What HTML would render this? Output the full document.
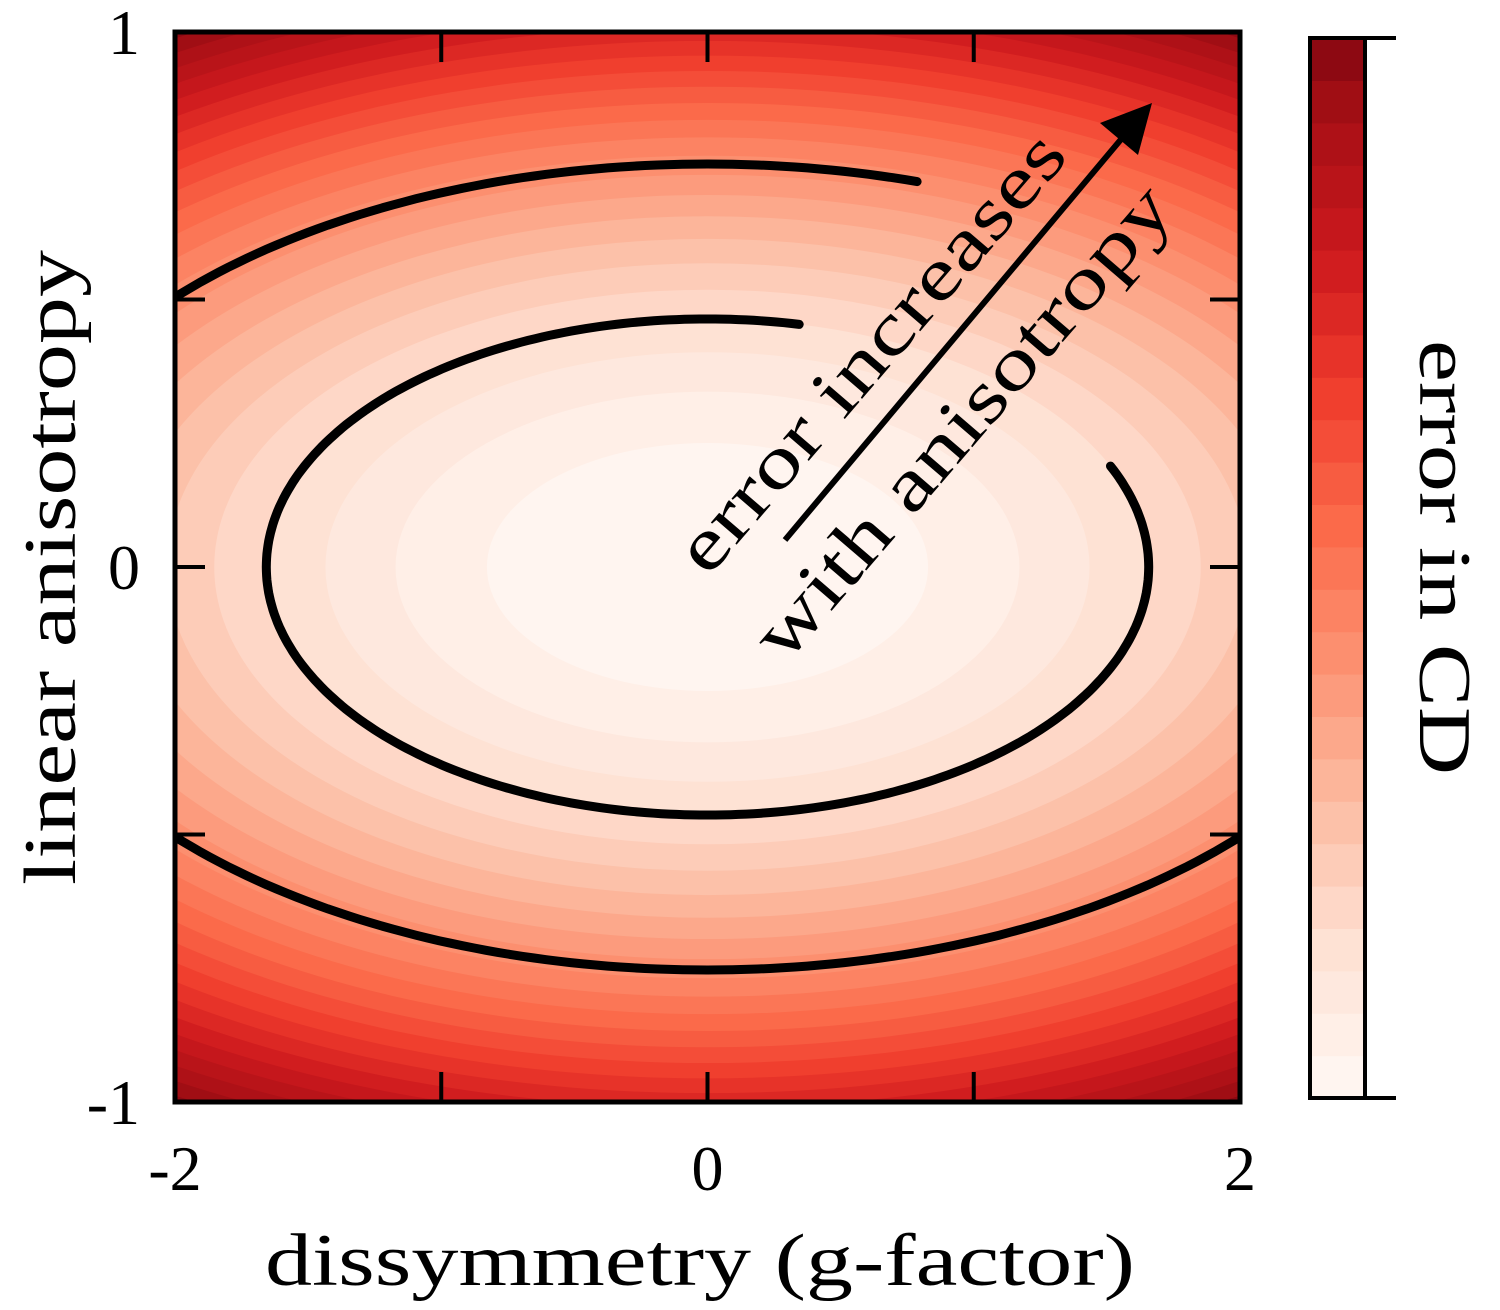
<!DOCTYPE html>
<html><head><meta charset="utf-8"><style>
html,body{margin:0;padding:0;background:#fff;}
svg{display:block;font-family:"Liberation Serif",serif;}
</style></head><body>
<svg id="chart" width="1500" height="1310" viewBox="0 0 1500 1310" xmlns="http://www.w3.org/2000/svg">
<defs><clipPath id="plotclip"><rect x="175" y="32" width="1065" height="1070"/></clipPath></defs>
<g id="heat" clip-path="url(#plotclip)"></g>
<g id="contours" clip-path="url(#plotclip)"></g>
<g id="axes"></g>
<g id="cbar"></g>
<g>
<line x1="785" y1="540" x2="1128" y2="131" stroke="#000" stroke-width="6"/>
<polygon points="1152,103 1138,155 1100,123" fill="#000"/>
<text transform="translate(708,578) rotate(-49.3)" font-size="74" textLength="555" lengthAdjust="spacingAndGlyphs" fill="#000">error increases</text>
<text transform="translate(785,665) rotate(-49.3)" font-size="74" textLength="600" lengthAdjust="spacingAndGlyphs" fill="#000">with anisotropy</text>
</g>
<text x="265" y="1285" font-size="74" textLength="870" lengthAdjust="spacingAndGlyphs">dissymmetry  (g-factor)</text>
<text transform="translate(75,885) rotate(-90)" font-size="74" textLength="635" lengthAdjust="spacingAndGlyphs">linear anisotropy</text>
<text transform="translate(1420,340) rotate(90)" font-size="74" textLength="435" lengthAdjust="spacingAndGlyphs">error in CD</text>
</svg>
<script>
// data
const xTicks = [-2, -1, 0, 1, 2];
const xTickLabels = ["-2", "", "0", "", "2"];
const yTicks = [-1, -0.5, 0, 0.5, 1];
const yTickLabels = ["-1", "", "0", "", "1"];
const bandLevels = [0.25,0.5,0.75,1,1.25,1.5,1.75,2,2.25,2.5,2.75,3,3.25,3.5,3.75,4,4.25,4.5,4.75,5,5.25,5.5,5.75,6,6.25];
const contourLevels = [1, 2.64];
const semiG = 1.657, semiA = 0.4636;
const cmap = ["#fff5f0","#fee0d2","#fcbba1","#fc9272","#fb6a4a","#ef3b2c","#cb181d","#a50f15","#67000d"];
const vMax = 6.5;

const X0=175,X1=1240,Y0=1102,Y1=32;
const sx = g => X0 + (g+2)/4*(X1-X0);
const sy = a => Y0 - (a+1)/2*(Y0-Y1);
const NS="http://www.w3.org/2000/svg";
function mk(t,attrs,parent){const e=document.createElementNS(NS,t);for(const k in attrs)e.setAttribute(k,attrs[k]);parent.appendChild(e);return e;}
function hex(c){return [1,3,5].map(i=>parseInt(c.substr(i,2),16));}
function color(v){let t=Math.max(0,Math.min(1,v/vMax))*(cmap.length-1);let i=Math.min(cmap.length-2,Math.floor(t));let f=t-i;const a=hex(cmap[i]),b=hex(cmap[i+1]);return "rgb("+a.map((x,k)=>Math.round(x+(b[k]-x)*f)).join(",")+")";}

const heat=document.getElementById('heat');
let bg=mk('rect',{x:X0,y:Y1,width:X1-X0,height:Y0-Y1,fill:color(vMax)},heat);


for(let i=bandLevels.length-1;i>=0;i--){
  const L=bandLevels[i];
  const el=mk('ellipse',{cx:sx(0),cy:sy(0),rx:sx(semiG*Math.sqrt(L))-sx(0),ry:sy(0)-sy(semiA*Math.sqrt(L)),fill:color(L-0.25)},heat);
  
  
}
const arcs=[[0,78,384],[1,73,182],[1,180,360]];
const cg=document.getElementById('contours');
arcs.forEach(([li,a0,a1])=>{
  const L=contourLevels[li];const rg=semiG*Math.sqrt(L),ra=semiA*Math.sqrt(L);
  let d="";
  for(let a=a0;a<=a1;a+=1){const r=a*Math.PI/180;const px=sx(rg*Math.cos(r)),py=sy(ra*Math.sin(r));d+=(d?"L":"M")+px.toFixed(1)+","+py.toFixed(1);}
  const p=mk('path',{d:d,fill:"none",stroke:"#000","stroke-width":9,"stroke-linecap":"round"},cg);
  
  
});
const ax=document.getElementById('axes');
const fr=mk('rect',{x:X0,y:Y1,width:X1-X0,height:Y0-Y1,fill:"none",stroke:"#000","stroke-width":5},ax);


xTicks.forEach((v,i)=>{
  const x=sx(v);
  mk('line',{x1:x,y1:Y0,x2:x,y2:Y0-30,stroke:"#000","stroke-width":4},ax);
  mk('line',{x1:x,y1:Y1,x2:x,y2:Y1+30,stroke:"#000","stroke-width":4},ax);
  if(xTickLabels[i]){const t=mk('text',{x:x,y:1190,"font-size":64,"text-anchor":"middle"},ax);t.textContent=xTickLabels[i];
  
  }
});
yTicks.forEach((v,i)=>{
  const y=sy(v);
  mk('line',{x1:X0,y1:y,x2:X0+30,y2:y,stroke:"#000","stroke-width":4},ax);
  mk('line',{x1:X1,y1:y,x2:X1-30,y2:y,stroke:"#000","stroke-width":4},ax);
  if(yTickLabels[i]){const t=mk('text',{x:140,y:y+22,"font-size":64,"text-anchor":"end"},ax);t.textContent=yTickLabels[i];
  
  }
});
const cb=document.getElementById('cbar');
const CB0=1098,CB1=38,n=bandLevels.length;
bandLevels.forEach((L,i)=>{
  const h=(CB0-CB1)/n;
  const r=mk('rect',{x:1310,y:CB0-(i+1)*h,width:55,height:h+0.6,fill:color(L-0.25)},cb);
  
  
});
mk('rect',{x:1310,y:CB1,width:55,height:CB0-CB1,fill:"none",stroke:"#000","stroke-width":4},cb);
mk('line',{x1:1366,y1:CB1,x2:1396,y2:CB1,stroke:"#000","stroke-width":4},cb);
mk('line',{x1:1366,y1:CB0,x2:1396,y2:CB0,stroke:"#000","stroke-width":4},cb);
</script>
</body></html>
